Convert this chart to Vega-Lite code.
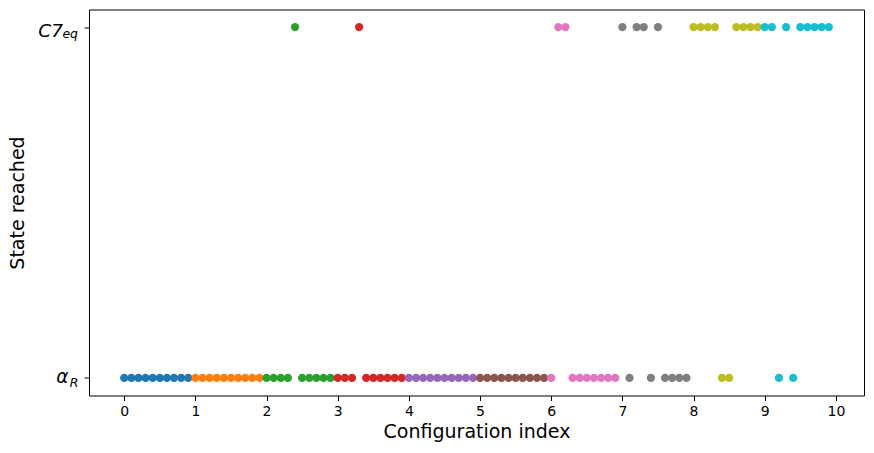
{
  "$schema": "https://vega.github.io/schema/vega-lite/v6.json",
  "width": 775,
  "height": 386,
  "autosize": {"type": "none"},
  "padding": {"left": 89, "top": 9.5, "right": 10, "bottom": 57.5},
  "background": "white",
  "config": {
    "view": {"stroke": "#000000", "strokeWidth": 1},
    "axis": {
      "domain": false,
      "grid": false,
      "tickColor": "#000000",
      "tickSize": 5,
      "tickWidth": 1,
      "labelColor": "#000000",
      "titleColor": "#000000",
      "labelFont": "DejaVu Sans",
      "titleFont": "DejaVu Sans",
      "titleFontWeight": "normal"
    }
  },
  "data": {
    "values": [
      {"config": 0.0, "group": 0, "state": 0}, {"config": 0.1, "group": 0, "state": 0}, {"config": 0.2, "group": 0, "state": 0}, {"config": 0.3, "group": 0, "state": 0}, {"config": 0.4, "group": 0, "state": 0},
      {"config": 0.5, "group": 0, "state": 0}, {"config": 0.6, "group": 0, "state": 0}, {"config": 0.7, "group": 0, "state": 0}, {"config": 0.8, "group": 0, "state": 0}, {"config": 0.9, "group": 0, "state": 0},
      {"config": 1.0, "group": 1, "state": 0}, {"config": 1.1, "group": 1, "state": 0}, {"config": 1.2, "group": 1, "state": 0}, {"config": 1.3, "group": 1, "state": 0}, {"config": 1.4, "group": 1, "state": 0},
      {"config": 1.5, "group": 1, "state": 0}, {"config": 1.6, "group": 1, "state": 0}, {"config": 1.7, "group": 1, "state": 0}, {"config": 1.8, "group": 1, "state": 0}, {"config": 1.9, "group": 1, "state": 0},
      {"config": 2.0, "group": 2, "state": 0}, {"config": 2.1, "group": 2, "state": 0}, {"config": 2.2, "group": 2, "state": 0}, {"config": 2.3, "group": 2, "state": 0}, {"config": 2.4, "group": 2, "state": 1},
      {"config": 2.5, "group": 2, "state": 0}, {"config": 2.6, "group": 2, "state": 0}, {"config": 2.7, "group": 2, "state": 0}, {"config": 2.8, "group": 2, "state": 0}, {"config": 2.9, "group": 2, "state": 0},
      {"config": 3.0, "group": 3, "state": 0}, {"config": 3.1, "group": 3, "state": 0}, {"config": 3.2, "group": 3, "state": 0}, {"config": 3.3, "group": 3, "state": 1}, {"config": 3.4, "group": 3, "state": 0},
      {"config": 3.5, "group": 3, "state": 0}, {"config": 3.6, "group": 3, "state": 0}, {"config": 3.7, "group": 3, "state": 0}, {"config": 3.8, "group": 3, "state": 0}, {"config": 3.9, "group": 3, "state": 0},
      {"config": 4.0, "group": 4, "state": 0}, {"config": 4.1, "group": 4, "state": 0}, {"config": 4.2, "group": 4, "state": 0}, {"config": 4.3, "group": 4, "state": 0}, {"config": 4.4, "group": 4, "state": 0},
      {"config": 4.5, "group": 4, "state": 0}, {"config": 4.6, "group": 4, "state": 0}, {"config": 4.7, "group": 4, "state": 0}, {"config": 4.8, "group": 4, "state": 0}, {"config": 4.9, "group": 4, "state": 0},
      {"config": 5.0, "group": 5, "state": 0}, {"config": 5.1, "group": 5, "state": 0}, {"config": 5.2, "group": 5, "state": 0}, {"config": 5.3, "group": 5, "state": 0}, {"config": 5.4, "group": 5, "state": 0},
      {"config": 5.5, "group": 5, "state": 0}, {"config": 5.6, "group": 5, "state": 0}, {"config": 5.7, "group": 5, "state": 0}, {"config": 5.8, "group": 5, "state": 0}, {"config": 5.9, "group": 5, "state": 0},
      {"config": 6.0, "group": 6, "state": 0}, {"config": 6.1, "group": 6, "state": 1}, {"config": 6.2, "group": 6, "state": 1}, {"config": 6.3, "group": 6, "state": 0}, {"config": 6.4, "group": 6, "state": 0},
      {"config": 6.5, "group": 6, "state": 0}, {"config": 6.6, "group": 6, "state": 0}, {"config": 6.7, "group": 6, "state": 0}, {"config": 6.8, "group": 6, "state": 0}, {"config": 6.9, "group": 6, "state": 0},
      {"config": 7.0, "group": 7, "state": 1}, {"config": 7.1, "group": 7, "state": 0}, {"config": 7.2, "group": 7, "state": 1}, {"config": 7.3, "group": 7, "state": 1}, {"config": 7.4, "group": 7, "state": 0},
      {"config": 7.5, "group": 7, "state": 1}, {"config": 7.6, "group": 7, "state": 0}, {"config": 7.7, "group": 7, "state": 0}, {"config": 7.8, "group": 7, "state": 0}, {"config": 7.9, "group": 7, "state": 0},
      {"config": 8.0, "group": 8, "state": 1}, {"config": 8.1, "group": 8, "state": 1}, {"config": 8.2, "group": 8, "state": 1}, {"config": 8.3, "group": 8, "state": 1}, {"config": 8.4, "group": 8, "state": 0},
      {"config": 8.5, "group": 8, "state": 0}, {"config": 8.6, "group": 8, "state": 1}, {"config": 8.7, "group": 8, "state": 1}, {"config": 8.8, "group": 8, "state": 1}, {"config": 8.9, "group": 8, "state": 1},
      {"config": 9.0, "group": 9, "state": 1}, {"config": 9.1, "group": 9, "state": 1}, {"config": 9.2, "group": 9, "state": 0}, {"config": 9.3, "group": 9, "state": 1}, {"config": 9.4, "group": 9, "state": 0},
      {"config": 9.5, "group": 9, "state": 1}, {"config": 9.6, "group": 9, "state": 1}, {"config": 9.7, "group": 9, "state": 1}, {"config": 9.8, "group": 9, "state": 1}, {"config": 9.9, "group": 9, "state": 1}
    ]
  },
  "layer": [
    {
      "mark": {"type": "circle", "size": 68, "opacity": 1},
      "encoding": {
        "x": {
          "field": "config",
          "type": "quantitative",
          "scale": {"domain": [-0.495, 10.395], "nice": false, "zero": false},
          "axis": {
            "values": [0, 1, 2, 3, 4, 5, 6, 7, 8, 9, 10],
            "format": "d",
            "labelFontSize": 14,
            "labelPadding": 4,
            "labelFlush": false,
            "title": "Configuration index",
            "titleFontSize": 19,
            "titlePadding": 4
          }
        },
        "y": {
          "field": "state",
          "type": "quantitative",
          "scale": {"domain": [-0.05, 1.05], "nice": false, "zero": false},
          "axis": {
            "values": [0, 1],
            "labelExpr": "datum.value == 1 ? 'C7' : 'α'",
            "labelFontSize": 18.5,
            "labelFontStyle": "italic",
            "labelBaseline": "alphabetic",
            "labelFlush": false,
            "labelPadding": {"condition": {"test": "datum.value == 1", "value": 21.5}, "value": 16},
            "labelOffset": {"condition": {"test": "datum.value == 1", "value": 9}, "value": 4.5},
            "title": "State reached",
            "titleFontSize": 19,
            "titlePadding": 10
          }
        },
        "color": {
          "field": "group",
          "type": "nominal",
          "scale": {
            "domain": [0, 1, 2, 3, 4, 5, 6, 7, 8, 9],
            "range": ["#1f77b4", "#ff7f0e", "#2ca02c", "#d62728", "#9467bd", "#8c564b", "#e377c2", "#7f7f7f", "#bcbd22", "#17becf"]
          },
          "legend": null
        }
      }
    },
    {
      "mark": {"type": "circle", "opacity": 0},
      "encoding": {
        "x": {"field": "config", "type": "quantitative"},
        "y": {
          "field": "state",
          "type": "quantitative",
          "axis": {
            "orient": "left",
            "values": [0, 1],
            "labelExpr": "datum.value == 1 ? 'eq' : 'R'",
            "labelFontSize": 12.5,
            "labelFontStyle": "italic",
            "labelBaseline": "alphabetic",
            "labelFlush": false,
            "tickOpacity": 0,
            "labelPadding": {"condition": {"test": "datum.value == 1", "value": 6.5}, "value": 6},
            "labelOffset": {"condition": {"test": "datum.value == 1", "value": 10}, "value": 9},
            "title": null
          }
        }
      }
    }
  ],
  "resolve": {"axis": {"y": "independent"}}
}
